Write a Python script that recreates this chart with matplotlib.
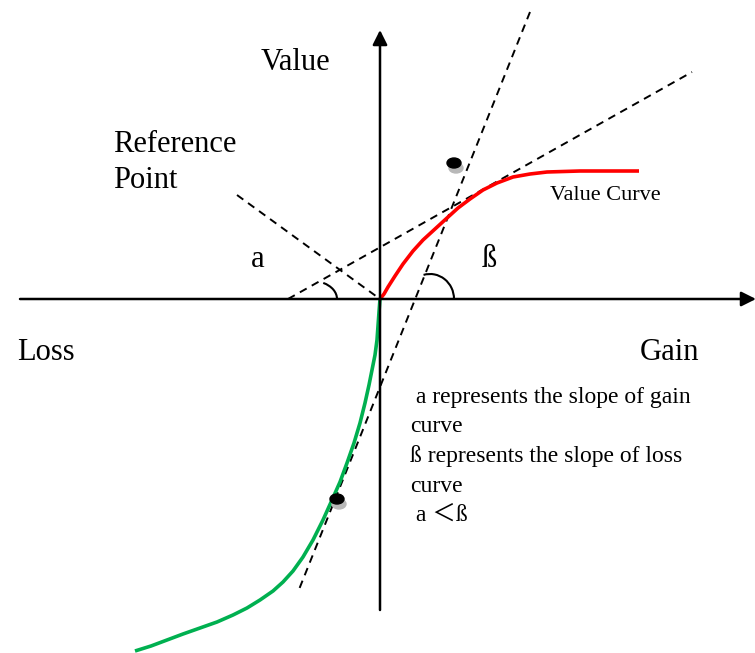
import matplotlib
matplotlib.use("Agg")
import matplotlib.pyplot as plt
from matplotlib.patches import Arc, Ellipse

# ── diagram data (pixel space, y grows downward) ─────────────────────────────
origin = (380, 299)

red_x = [380, 384, 388, 395, 403, 413, 423, 435, 447, 458, 470, 483, 497, 513, 530, 547, 580, 610, 639]
red_y = [299, 294, 287, 276, 264, 251, 240, 229, 218, 208, 199, 190, 183, 177, 174, 172, 171, 171, 171]

green_x = [380, 379, 378, 377, 375, 372, 369, 365, 360, 354, 347, 340, 332, 323, 313, 303, 293,
           283, 273, 260, 247, 233, 217, 200, 183, 167, 151, 135]
green_y = [299, 312, 326, 340, 355, 370, 385, 403, 423, 443, 463, 482, 500, 520, 540, 557, 571,
           582, 591, 600, 608, 615, 622, 628, 634, 640, 646, 651]

beta_line_x = [530, 298]
beta_line_y = [12, 592]
alpha_line_x = [288, 692]
alpha_line_y = [299, 72]
ref_line_x = [237, 380]
ref_line_y = [195, 299]

dot_x = [454, 337]
dot_y = [163, 499]

notes = [" a represents the slope of gain", "curve", "ß represents the slope of loss",
         "curve", " a \uff1c\u00df"]

SERIF = ["Liberation Serif", "Noto Sans CJK SC", "DejaVu Sans"]

fig = plt.figure(figsize=(7.55, 6.53), dpi=100)
ax = fig.add_axes([0, 0, 1, 1])
ax.set_xlim(0, 755)
ax.set_ylim(653, 0)
ax.axis("off")

# axes with arrows
arrow_kw = dict(arrowstyle="-|>", color="black", lw=1.8, mutation_scale=22, shrinkA=0, shrinkB=0)
ax.annotate("", xy=(756, origin[1]), xytext=(20, origin[1]), arrowprops=arrow_kw,
            annotation_clip=False)
ax.annotate("", xy=(origin[0], 30), xytext=(origin[0], 610), arrowprops=arrow_kw,
            annotation_clip=False)

# dashed tangent / reference lines
dash = (0, (4, 3))
ax.plot(beta_line_x, beta_line_y, color="black", lw=1.4, linestyle=dash)
ax.plot(alpha_line_x, alpha_line_y, color="black", lw=1.4, linestyle=dash)
ax.plot(ref_line_x, ref_line_y, color="black", lw=1.4, linestyle=dash)

# angle arcs
ax.add_patch(Arc((312, 299), 50, 36, theta1=305, theta2=360, color="black", lw=1.5))
ax.add_patch(Arc((430, 299), 48, 50, theta1=255, theta2=360, color="black", lw=1.5))

# value curves
ax.plot(red_x, red_y, color="#ff0000", lw=2.6, solid_capstyle="butt", solid_joinstyle="round")
ax.plot(green_x, green_y, color="#00b050", lw=2.6, solid_capstyle="butt", solid_joinstyle="round")

# tangent points (dot with grey shadow)
for x, y in zip(dot_x, dot_y):
    ax.add_patch(Ellipse((x + 2, y + 5), 14, 10, color="#b8b8b8", zorder=4))
    ax.add_patch(Ellipse((x, y), 14, 10, color="black", zorder=5))

# labels
ax.text(295, 70, "Value", fontsize=22, family=SERIF, ha="center", va="baseline")
ax.text(113, 152, "Reference", fontsize=22, family=SERIF, va="baseline")
ax.text(113, 188, "Point", fontsize=22, family=SERIF, va="baseline")
ax.text(251, 267, "a", fontsize=22, family=SERIF, va="baseline")
ax.text(482, 267, "\u00df", fontsize=22, family=SERIF, va="baseline")
ax.text(17, 360, "Loss", fontsize=22, family=SERIF, va="baseline")
ax.text(640, 360, "Gain", fontsize=22, family=SERIF, va="baseline")
ax.text(550, 200, "Value Curve", fontsize=16, family=SERIF, va="baseline")

for i, line in enumerate(notes):
    ax.text(410, 403 + 29.5 * i, line, fontsize=17, family=SERIF, va="baseline")

fig.savefig("out.png", dpi=100)
plt.close(fig)
